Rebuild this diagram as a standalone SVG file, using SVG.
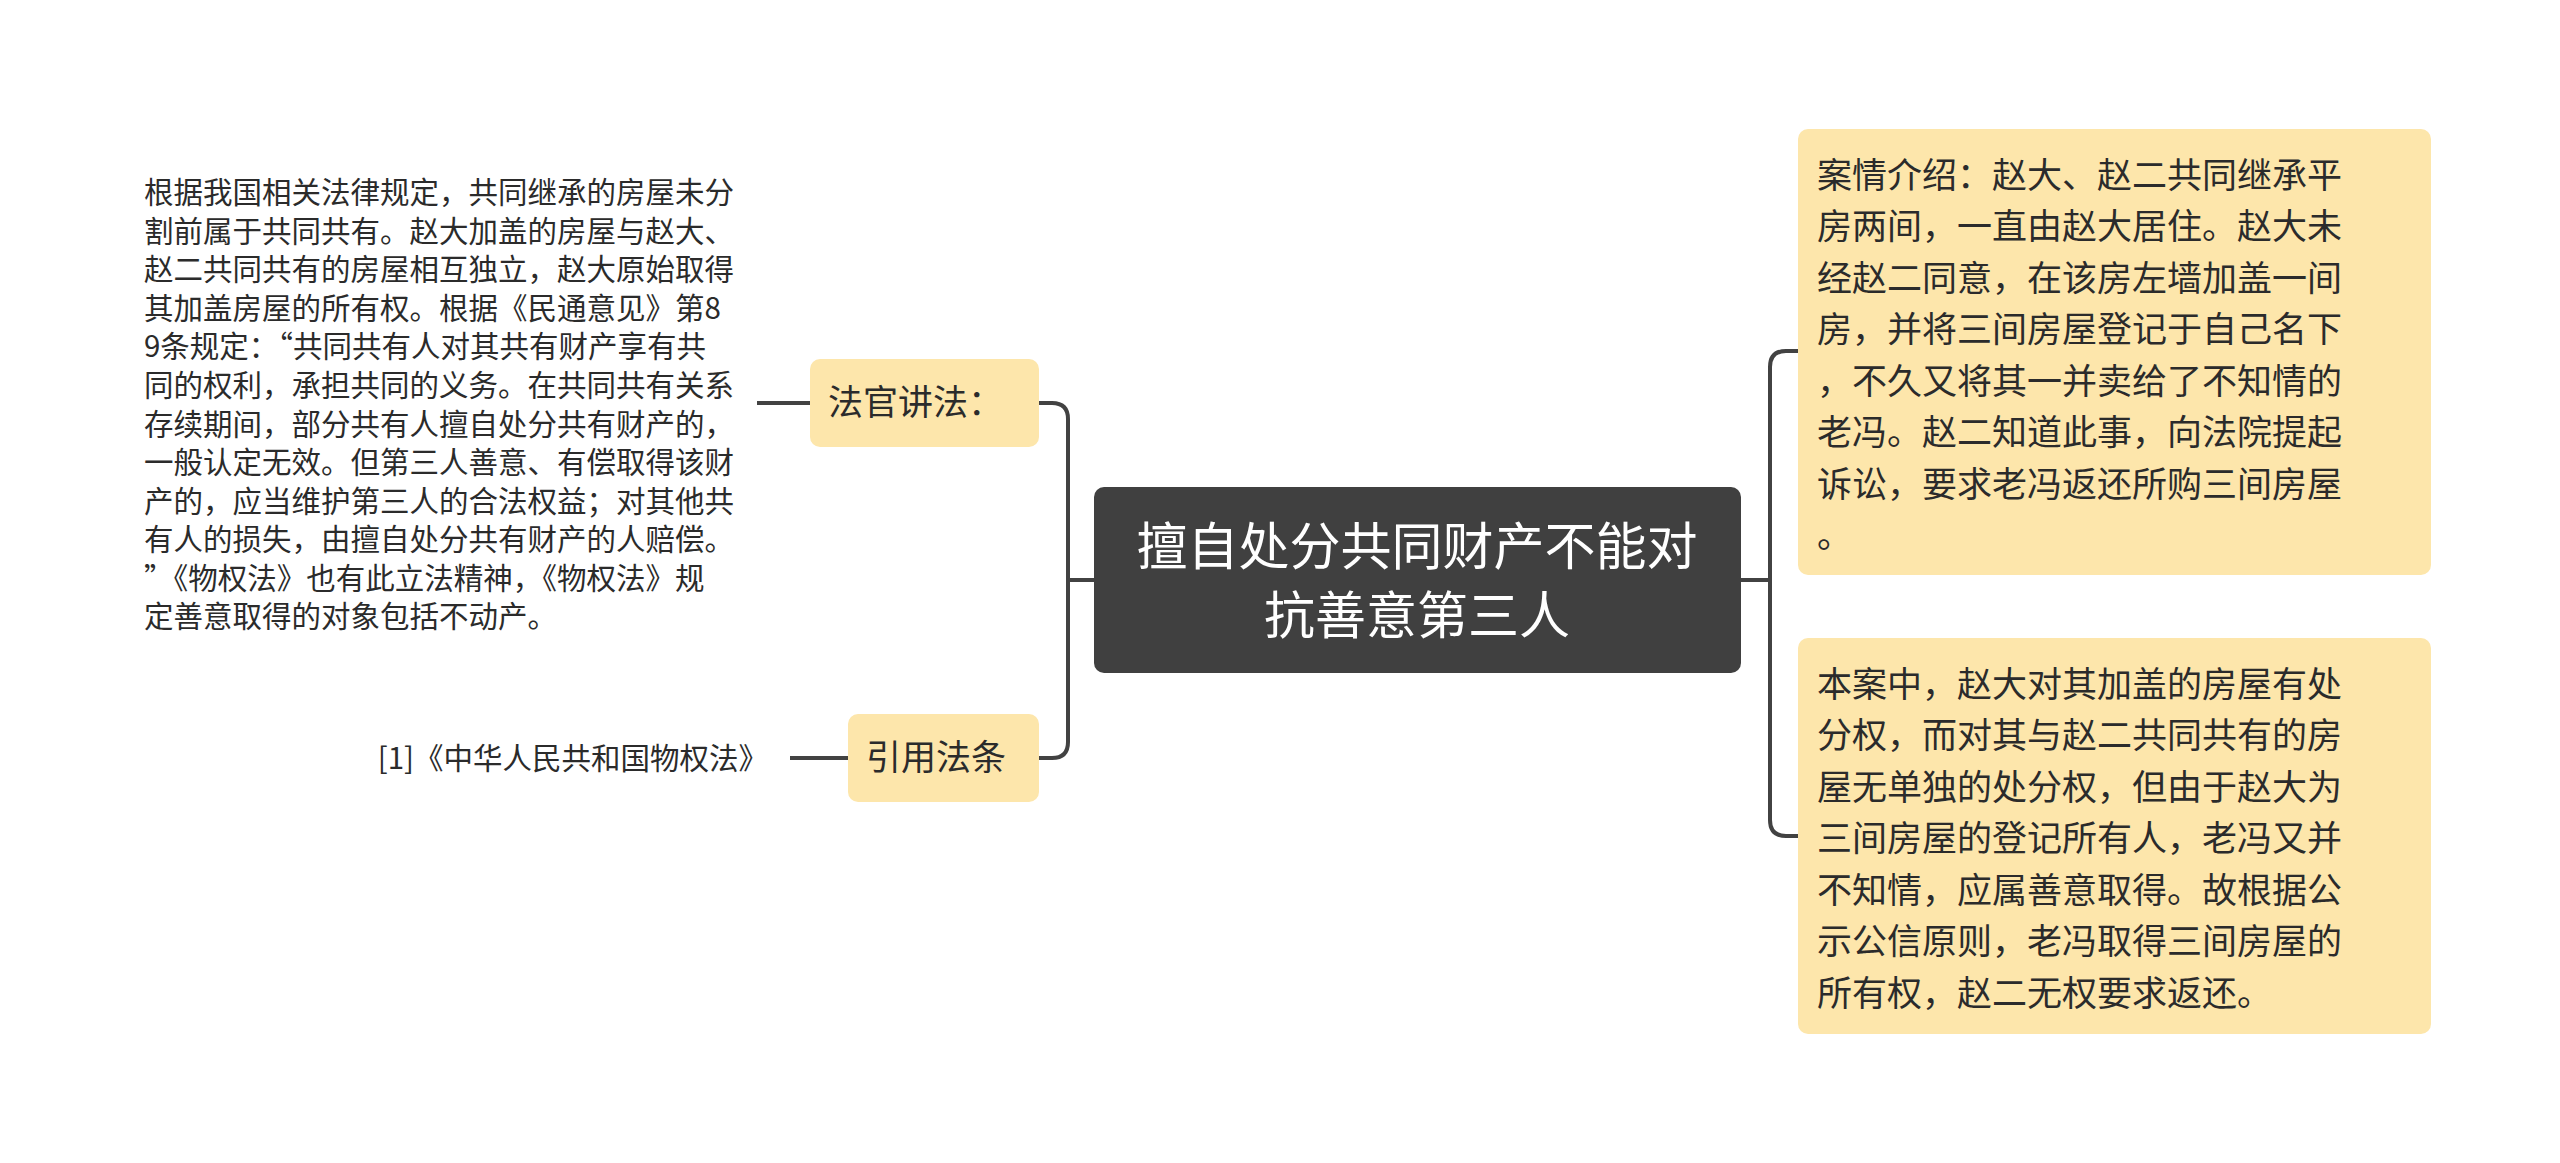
<svg xmlns="http://www.w3.org/2000/svg" width="2560" height="1163" viewBox="0 0 2560 1163">
<style>
text{font-family:"Noto Sans CJK SC","Noto Sans",sans-serif;}
.c{fill:none;stroke:#424242;stroke-width:4;}
.y{fill:#fde6ab;}
.t{font-size:35px;fill:#2b2b2b;}
.s{font-size:29.5px;fill:#2b2b2b;}
</style>
<rect width="2560" height="1163" fill="#fff"/>
<g id="connectors">
<path class="c" d="M1741 580 H1770 M1798 351 H1786 Q1770 351 1770 367 V820 Q1770 836 1786 836 H1798"/>
<path class="c" d="M1094 580 H1068 M1039 403 H1052 Q1068 403 1068 419 V742 Q1068 758 1052 758 H1039"/>
<path class="c" d="M810 403 H757 M848 758 H790"/>
</g>
<g id="center">
<rect x="1094" y="487" width="647" height="186" rx="10" fill="#404040"/>
<text x="1417" y="565" font-size="51" fill="#fff" text-anchor="middle">擅自处分共同财产不能对</text>
<text x="1417" y="634" font-size="51" fill="#fff" text-anchor="middle">抗善意第三人</text>
</g>
<g id="case">
<rect class="y" x="1798" y="129" width="633" height="446" rx="10"/>
<text class="t" x="1817" y="188">案情介绍：赵大、赵二共同继承平</text>
<text class="t" x="1817" y="239">房两间，一直由赵大居住。赵大未</text>
<text class="t" x="1817" y="291">经赵二同意，在该房左墙加盖一间</text>
<text class="t" x="1817" y="342">房，并将三间房屋登记于自己名下</text>
<text class="t" x="1817" y="394">，不久又将其一并卖给了不知情的</text>
<text class="t" x="1817" y="445">老冯。赵二知道此事，向法院提起</text>
<text class="t" x="1817" y="497">诉讼，要求老冯返还所购三间房屋</text>
<text class="t" x="1817" y="548">。</text>
</g>
<g id="analysis">
<rect class="y" x="1798" y="638" width="633" height="396" rx="10"/>
<text class="t" x="1817" y="697">本案中，赵大对其加盖的房屋有处</text>
<text class="t" x="1817" y="748">分权，而对其与赵二共同共有的房</text>
<text class="t" x="1817" y="800">屋无单独的处分权，但由于赵大为</text>
<text class="t" x="1817" y="851">三间房屋的登记所有人，老冯又并</text>
<text class="t" x="1817" y="903">不知情，应属善意取得。故根据公</text>
<text class="t" x="1817" y="954">示公信原则，老冯取得三间房屋的</text>
<text class="t" x="1817" y="1006">所有权，赵二无权要求返还。</text>
</g>
<g id="judge">
<rect class="y" x="810" y="359" width="229" height="88" rx="10"/>
<text class="t" x="828" y="415">法官讲法：</text>
</g>
<g id="cite">
<rect class="y" x="848" y="714" width="191" height="88" rx="10"/>
<text class="t" x="866" y="770">引用法条</text>
</g>
<g id="judge-text">
<text class="s" x="144" y="203">根据我国相关法律规定，共同继承的房屋未分</text>
<text class="s" x="144" y="242">割前属于共同共有。赵大加盖的房屋与赵大、</text>
<text class="s" x="144" y="280">赵二共同共有的房屋相互独立，赵大原始取得</text>
<text class="s" x="144" y="319">其加盖房屋的所有权。根据《民通意见》第8</text>
<text class="s" x="144" y="357">9条规定：“共同共有人对其共有财产享有共</text>
<text class="s" x="144" y="396">同的权利，承担共同的义务。在共同共有关系</text>
<text class="s" x="144" y="435">存续期间，部分共有人擅自处分共有财产的，</text>
<text class="s" x="144" y="473">一般认定无效。但第三人善意、有偿取得该财</text>
<text class="s" x="144" y="512">产的，应当维护第三人的合法权益；对其他共</text>
<text class="s" x="144" y="550">有人的损失，由擅自处分共有财产的人赔偿。</text>
<text class="s" x="144" y="589">”《物权法》也有此立法精神，《物权法》规</text>
<text class="s" x="144" y="627">定善意取得的对象包括不动产。</text>
</g>
<g id="cite-text">
<text class="s" x="768" y="769" text-anchor="end">[1]《中华人民共和国物权法》</text>
</g>
</svg>
